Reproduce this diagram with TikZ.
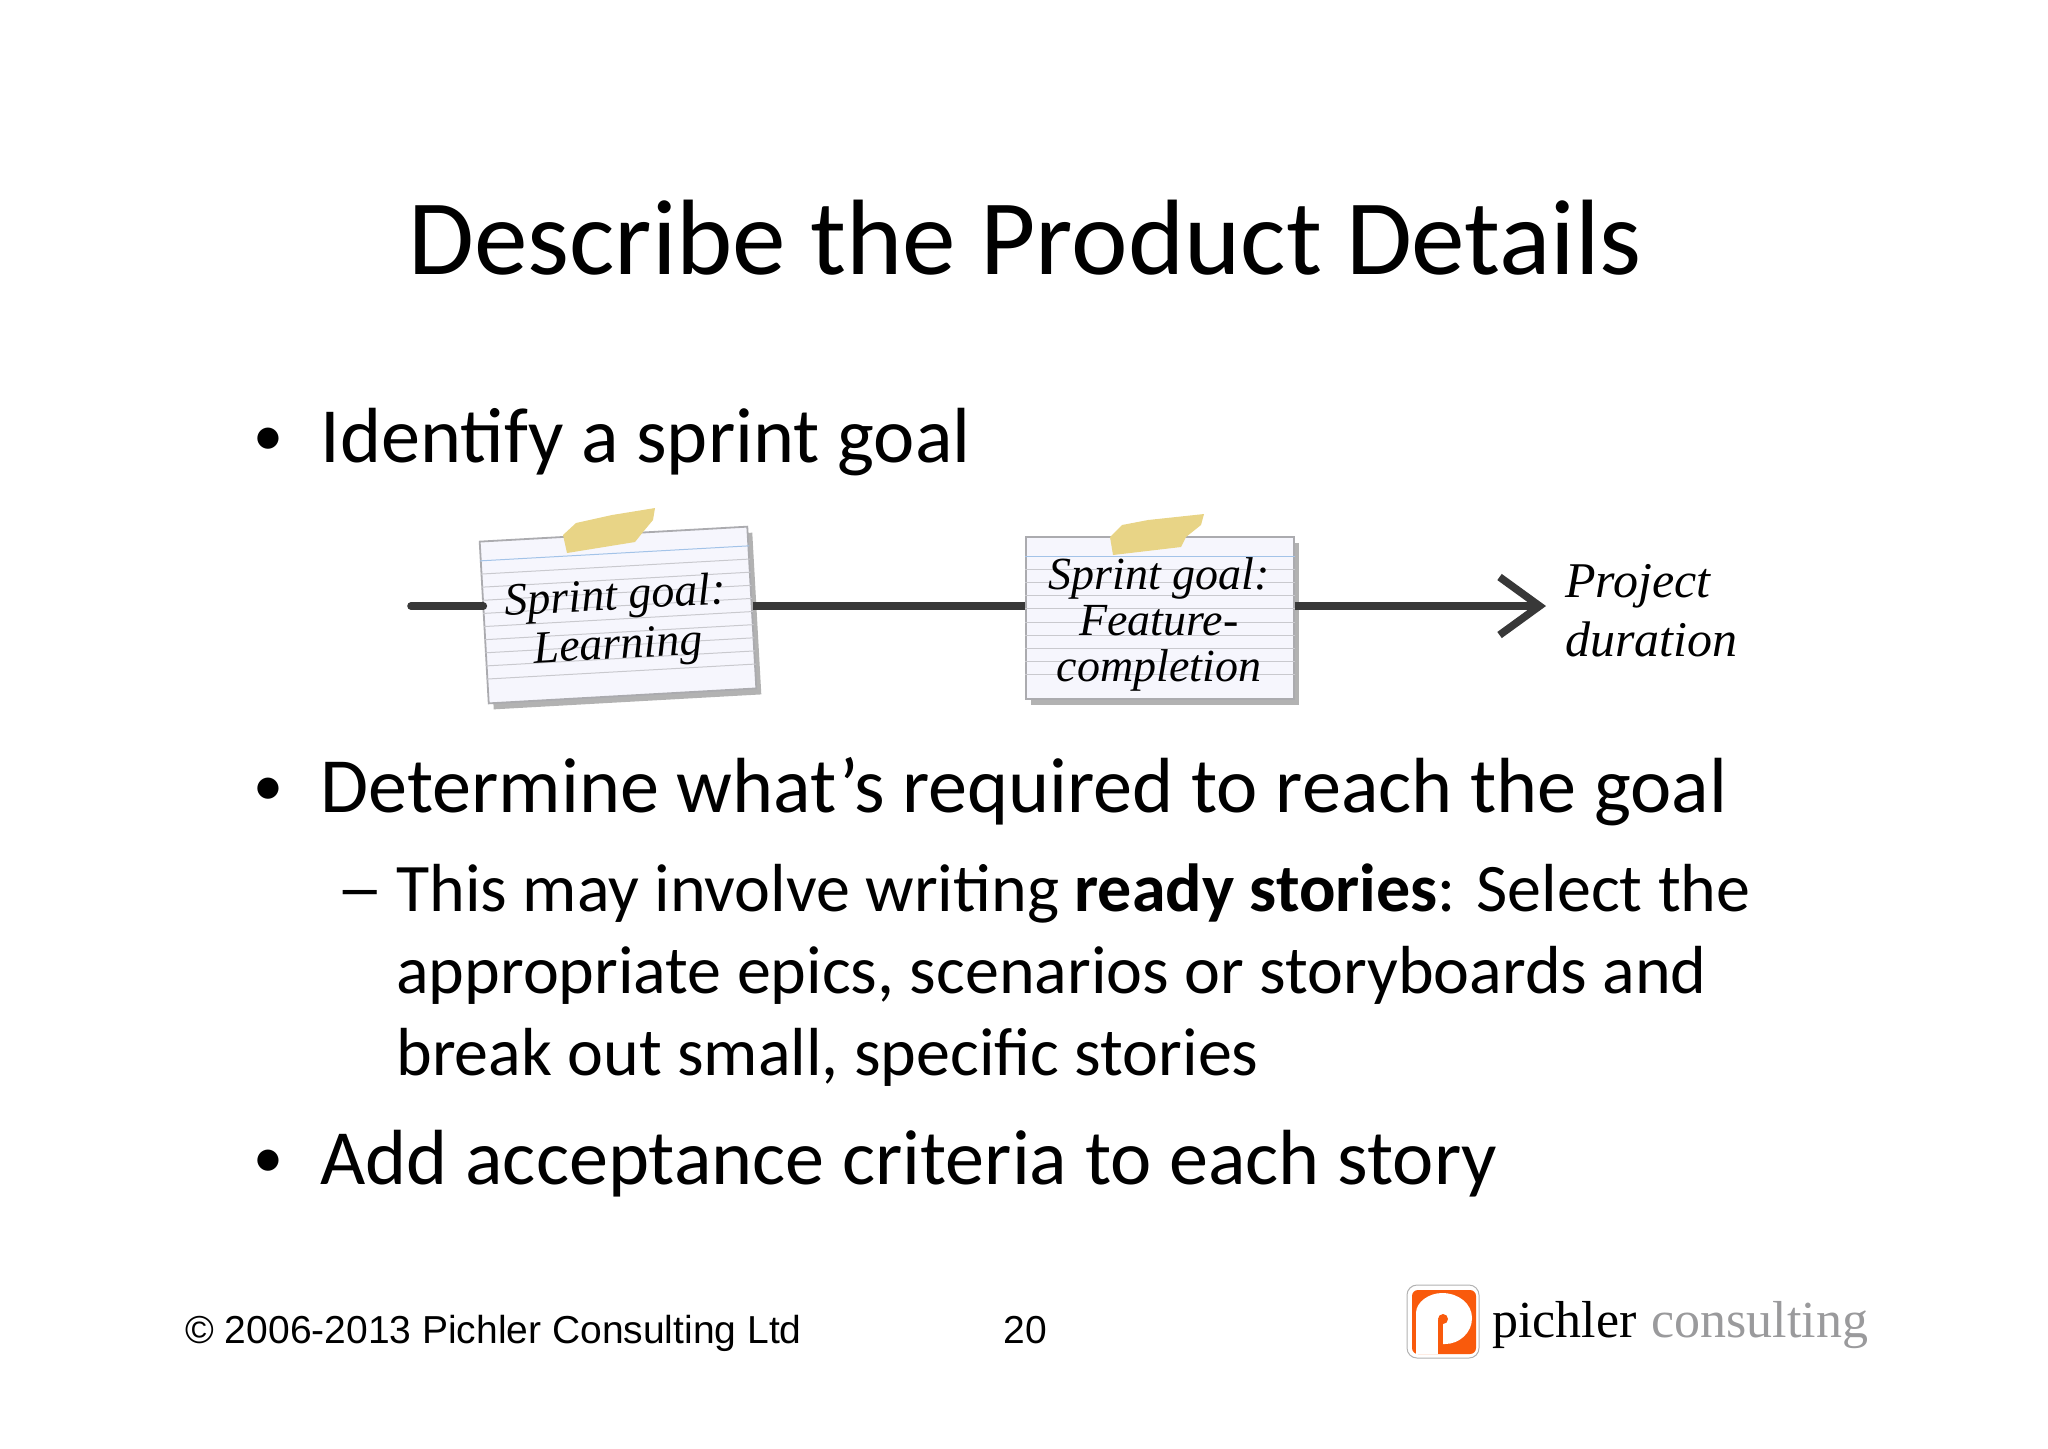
\documentclass[tikz,border=0pt]{standalone}
\usepackage{fontspec}
\setmainfont{Carlito}
\newfontfamily\handfont{Liberation Serif}
\newfontfamily\footfont{Liberation Sans}
\newfontfamily\logofont{Liberation Serif}
\usetikzlibrary{arrows.meta, calc, shadows}

\definecolor{cardfill}{HTML}{F6F6FD}
\definecolor{cardedge}{HTML}{ABABAF}
\definecolor{tapefill}{HTML}{E8D486}
\definecolor{ruleblue}{HTML}{A3C3E8}
\definecolor{rulegray}{HTML}{C9C9CE}
\definecolor{logoorange}{HTML}{F95A0C}
\definecolor{logogray}{HTML}{9A9A9C}

\tikzset{
    heading/.style={anchor=base, inner sep=0, font=\fontsize{53.6}{60}\selectfont},
    mainitem/.style={anchor=base west, inner sep=0, font=\fontsize{39.1}{44}\selectfont},
    bulletmark/.style={anchor=base west, inner sep=0, font=\fontsize{30}{34}\selectfont},
    subitem/.style={anchor=base west, inner sep=0, font=\fontsize{34}{38}\selectfont},
    footitem/.style={anchor=base west, inner sep=0, font=\footfont\fontsize{19.5}{24}\selectfont},
    card/.style={draw=cardedge, line width=0.9pt, fill=cardfill, inner sep=0, minimum width=134pt, minimum height=81pt,
        drop shadow={shadow xshift=2.5pt, shadow yshift=-3pt, fill=black, opacity=0.3}},
    handtext/.style={inner sep=0, align=center, font=\handfont\itshape\fontsize{23}{23}\selectfont},
    tape/.style={fill=tapefill, draw=none},
    timeline/.style={line width=3.8pt, draw=black!78},
    logotext/.style={anchor=base west, inner sep=0, font=\logofont\fontsize{26}{30}\selectfont}
}

% ruled lines of an index card, given by its node name
\newcommand{\cardrules}[1]{
    \draw[ruleblue, line width=0.5pt] ($(#1.north west)!0.123!(#1.south west)$) -- ($(#1.north east)!0.123!(#1.south east)$);
    \foreach \i in {0,...,8} {
        \draw[rulegray, line width=0.5pt] ($(#1.north west)!{(33+13*\i)/162}!(#1.south west)$) -- ($(#1.north east)!{(33+13*\i)/162}!(#1.south east)$);
    }
}

\begin{document}
\begin{tikzpicture}[x=0.5pt, y=-0.5pt]
    \useasboundingbox (0, 0) rectangle (2048, 1448);

    \node[heading] (title) at (1025, 274) {Describe the Product Details};

    \node[bulletmark] (bullet1) at (253, 455) {•};
    \node[mainitem] (item1) at (320, 462) {Identify a sprint goal};

    % timeline behind the cards
    \coordinate (start) at (411, 606);
    \coordinate (finish) at (1546, 606);

    \node[card, rotate=3.2] (cardA) at (618, 615) {};
    \node[card] (cardB) at (1160, 618) {};

    \draw[timeline, line cap=round] (start) -- (start -| cardA.west);
    \draw[timeline] (cardA.east |- start) -- (cardB.west |- start);
    \draw[timeline, -{Straight Barb[length=20pt, width=29pt]}] (cardB.east |- start) -- (finish);

    \cardrules{cardA}
    \cardrules{cardB}

    \fill[tape] (563, 535) -- (576, 523) -- (612, 515) -- (655, 508) -- (653, 520) -- (643, 532) -- (635, 542) -- (567, 553) -- cycle;
    \fill[tape] (1110, 537) -- (1122, 525) -- (1148, 520) -- (1204, 514) -- (1201, 525) -- (1186, 537) -- (1181, 547) -- (1113, 555) -- cycle;

    \node[handtext, rotate=3.2] (goalA) at (617, 623) {Sprint goal:\\[1.5pt]Learning};
    \node[handtext] (goalB) at (1159, 624) {Sprint goal:\\Feature-\\completion};
    \node[handtext, align=left, anchor=west, font=\handfont\itshape\fontsize{25}{29.5}\selectfont] (duration) at (1565, 611) {Project\\duration};

    \node[bulletmark] (bullet2) at (253, 805) {•};
    \node[mainitem] (item2) at (320, 812) {Determine what’s required to reach the goal};
    \node[subitem, xscale=1.4] (dash) at (336, 911) {–};
    \node[subitem] (sub1) at (396, 911) {This may involve writing \textbf{ready stories}: Select the};
    \node[subitem] (sub2) at (396, 993) {appropriate epics, scenarios or storyboards and};
    \node[subitem] (sub3) at (396, 1075) {break out small, specific stories};
    \node[bulletmark] (bullet3) at (253, 1177) {•};
    \node[mainitem] (item3) at (320, 1184) {Add acceptance criteria to each story};

    \node[footitem] (copyright) at (185, 1343) {© 2006-2013 Pichler Consulting Ltd};
    \node[footitem] (pagenum) at (1003, 1343) {20};

    % logo
    \filldraw[fill=white, draw=black!30, line width=0.5pt, rounded corners=5pt] (1407, 1285) rectangle (1479, 1358);
    \fill[logoorange, rounded corners=3pt] (1412, 1290) rectangle (1476, 1354);
    \fill[white] (1416, 1354) -- (1416, 1313) .. controls (1416, 1302) and (1429, 1293) .. (1442, 1293) .. controls (1459, 1293) and (1472, 1304) .. (1472, 1318) .. controls (1472, 1333) and (1459, 1344) .. (1445, 1344) -- (1438, 1344) -- (1438, 1354) -- cycle;
    \fill[logoorange] (1438, 1320) rectangle (1443, 1354);
    \fill[logoorange] (1443, 1319) circle (5);
    \node[logotext] (logoA) at (1492, 1337) {pichler};
    \node[logotext, text=logogray] (logoB) at (1651, 1337) {consulting};
\end{tikzpicture}
\end{document}
